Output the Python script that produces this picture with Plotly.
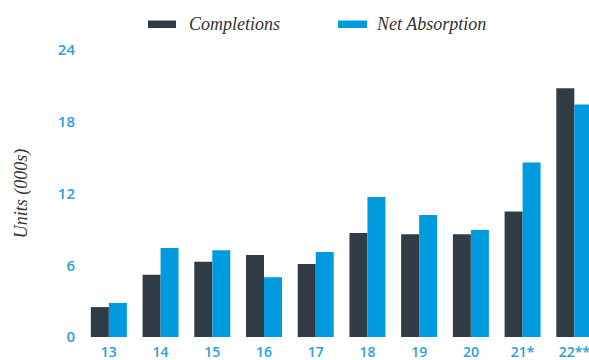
import plotly.graph_objects as go

categories = ["13", "14", "15", "16", "17", "18", "19", "20", "21*", "22**"]
completions = [2.5, 5.2, 6.3, 6.85, 6.1, 8.7, 8.6, 8.6, 10.5, 20.8]
net_absorption = [2.85, 7.45, 7.25, 5.0, 7.1, 11.7, 10.2, 8.95, 14.6, 19.45]
y_ticks = [0, 6, 12, 18, 24]

DARK = "#313c46"
BLUE = "#009bde"
TICK = "#2a9fd8"
TEXT = "#333333"

fig = go.Figure()
fig.add_trace(go.Bar(x=categories, y=completions, name="Completions",
                     marker=dict(color=DARK, line=dict(width=0)), showlegend=False))
fig.add_trace(go.Bar(x=categories, y=net_absorption, name="Net Absorption",
                     marker=dict(color=BLUE, line=dict(width=0)), showlegend=False))

W, H = 589, 360
L, R, T, B = 83, 0, 50, 23
pw, ph = W - L - R, H - T - B

def px_x(p):
    return (p - L) / pw

def px_y(p):
    return (H - B - p) / ph

# custom legend
legend_items = [("Completions", DARK, 148, 176, 189), ("Net Absorption", BLUE, 338, 367, 376)]
shapes = []
annotations = []
for label, col, x0, x1, tx in legend_items:
    shapes.append(dict(type="rect", xref="paper", yref="paper",
                       x0=px_x(x0), x1=px_x(x1), y0=px_y(28), y1=px_y(20.5),
                       fillcolor=col, line=dict(width=0)))
    annotations.append(dict(text=label, xref="paper", yref="paper",
                            x=px_x(tx - 2), y=px_y(24), xanchor="left", yanchor="middle",
                            showarrow=False,
                            font=dict(family="Liberation Serif", size=18, color=TEXT, style="italic")))

fig.update_layout(
    width=W, height=H,
    margin=dict(l=L, r=R, t=T, b=B, pad=0, autoexpand=False),
    plot_bgcolor="white", paper_bgcolor="white",
    barmode="group", bargap=0.304, bargroupgap=0,
    shapes=shapes, annotations=annotations,
    xaxis=dict(type="category", range=[-0.5, 9.284], showgrid=False, zeroline=False,
               showline=False, ticks="", ticklabelstandoff=5, automargin=False,
               tickfont=dict(family="Open Sans", size=14, color=TICK, weight=600)),
    yaxis=dict(range=[0, 24], tickvals=y_ticks, ticktext=[str(v) for v in y_ticks],
               showgrid=False, zeroline=False, showline=False, ticks="",
               ticklabelstandoff=7, automargin=False,
               tickfont=dict(family="Open Sans", size=15, color=TICK, weight=600),
               title=dict(text="Units (000s)", standoff=25,
                          font=dict(family="Liberation Serif", size=18, color=TEXT, style="italic"))),
)

fig.write_html("out.html",
               config={"displayModeBar": False},
               post_script="document.body.style.margin='0';document.body.style.overflow='hidden';")
